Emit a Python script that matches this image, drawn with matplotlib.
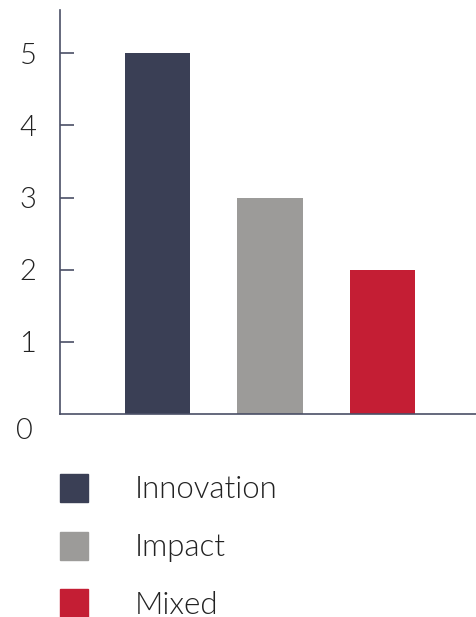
import matplotlib.pyplot as plt
from matplotlib.patches import Rectangle

categories = ['Innovation', 'Impact', 'Mixed']
values = [5, 3, 2]
colors = ['#3a3f55', '#9c9b99', '#c41e34']
yticks = [1, 2, 3, 4, 5]

plt.rcParams['font.family'] = ['Lato', 'DejaVu Sans']
axis_col = '#4a4f66'
text_col = '#222222'
fw = 300

fig = plt.figure(figsize=(4.76, 6.17), dpi=100)
ax = fig.add_axes([60 / 476, 1 - 414 / 617, 416 / 476, 404 / 617])

x = list(range(len(categories)))
ax.bar(x, values, width=0.58, color=colors)
ax.set_xlim(-0.867, 2.83)
ax.set_ylim(0, 5.6)

for s in ['top', 'right']:
    ax.spines[s].set_visible(False)
for s in ['left', 'bottom']:
    ax.spines[s].set_color(axis_col)
    ax.spines[s].set_linewidth(1.2)

ax.set_xticks([])
ax.set_yticks(yticks)
ax.tick_params(axis='y', direction='in', length=10, width=1.2, color=axis_col,
               labelsize=21, labelcolor=text_col, pad=17)
for lab in ax.get_yticklabels():
    lab.set_fontweight(fw)
# the zero label sits below the axis line
ax.text(-0.085, -0.042, '0', transform=ax.transAxes, ha='center', va='center',
        fontsize=21, color=text_col, fontweight=fw)

# legend below the plot
for i, (cat, col) in enumerate(zip(categories, colors)):
    ytop = 474 + i * 57.5
    fig.patches.append(Rectangle((60 / 476, 1 - (ytop + 28) / 617), 28 / 476, 28 / 617,
                                 transform=fig.transFigure, color=col))
    fig.text(135 / 476, 1 - (ytop + 16) / 617, cat, ha='left', va='center',
             fontsize=22.5, color=text_col, fontweight=fw)

fig.savefig('out.png', dpi=100)
